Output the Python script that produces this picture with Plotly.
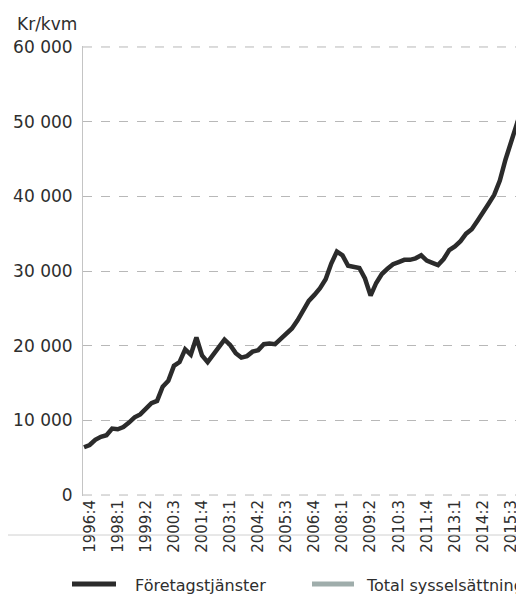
import plotly.graph_objects as go

# Quarter categories 1996:3 .. 2016:1
start_year, start_q = 1996, 3
n_points = 79
quarters = []
y, q = start_year, start_q
for _ in range(n_points):
    quarters.append(f"{y}:{q}")
    q += 1
    if q > 4:
        q = 1
        y += 1

series_name = "Företagstjänster"
series2_name = "Total sysselsättning"
y_title = "Kr/kvm"

foretagstjanster = [
    6400, 6700, 7400, 7800, 8000, 8900, 8800, 9100, 9700, 10400,
    10800, 11600, 12300, 12600, 14500, 15300, 17300, 17800, 19500, 18800,
    21100, 18700, 17800, 18800, 19900, 20800, 20100, 19000, 18400, 18600,
    19200, 19400, 20200, 20300, 20200, 20900, 21700, 22300, 23400, 24600,
    26000, 26800, 27700, 28900, 31000, 32600, 32100, 30700, 30500, 30400,
    29000, 26700, 28400, 29600, 30300, 30900, 31200, 31500, 31500, 31700,
    32100, 31400, 31100, 30800, 31600, 32800, 33300, 34000, 35000, 35600,
    36700, 38000, 39000, 40200, 42100, 44900, 47300, 49500, 52000,
]

x_ticks = quarters[1::5]
y_tickvals = [0, 10000, 20000, 30000, 40000, 50000, 60000]
y_ticktext = ["0", "10 000", "20 000", "30 000", "40 000", "50 000", "60 000"]

FONT = "DejaVu Sans"
TXT = "#2e2e2e"
GRID = "#b8b8b8"

fig = go.Figure()
fig.add_trace(go.Scatter(
    x=quarters, y=foretagstjanster, mode="lines", name=series_name,
    line=dict(color="#2b2b2b", width=4.5), showlegend=False,
    cliponaxis=False,
))

# page body has an 8px margin, so the figure is laid out 8px smaller
OFF = 8
W, H = 524 - OFF, 596 - OFF
ml, mr, mt, mb = 83 - OFF, 0, 46 - OFF, 100
pw = W - ml - mr
ph = H - mt - mb


def px_x(xpage):
    return (xpage - OFF - ml) / pw


def px_y(ypage):
    return (H - mb - (ypage - OFF)) / ph


edge_grid = [
    dict(type="line", xref="paper", yref="y", x0=0, x1=1,
         y0=v, y1=v, layer="below",
         line=dict(color=GRID, width=1, dash="dash"))
    for v in (y_tickvals[0], y_tickvals[-1])
]

fig.update_layout(
    width=W, height=H,
    margin=dict(l=ml, r=mr, t=mt, b=mb, autoexpand=False),
    paper_bgcolor="white", plot_bgcolor="white",
    font=dict(family=FONT, color=TXT),
    showlegend=False,
    xaxis=dict(
        type="category", automargin=False,
        range=[-0.18, 78.3],
        tickmode="array", tickvals=x_ticks, ticktext=x_ticks,
        tickangle=-90, tickfont=dict(size=15, family=FONT, color=TXT),
        showgrid=False, zeroline=False, showline=False, ticks="",
    ),
    yaxis=dict(
        range=[-130, 60130], automargin=False,
        tickmode="array", tickvals=y_tickvals, ticktext=y_ticktext,
        tickfont=dict(size=17, family=FONT, color=TXT),
        showgrid=True, gridcolor=GRID, gridwidth=1, griddash="dash",
        zeroline=False, showline=True, linecolor="#c4c4c4", linewidth=1,
        ticks="", ticklabelstandoff=6,
    ),
    annotations=[
        dict(text=y_title, xref="paper", yref="paper",
             x=px_x(15), y=px_y(24), xanchor="left", yanchor="middle",
             showarrow=False, font=dict(size=17, family=FONT, color=TXT)),
        dict(text=series_name, xref="paper", yref="paper",
             x=px_x(133), y=px_y(585), xanchor="left", yanchor="middle",
             showarrow=False, font=dict(size=16, family=FONT, color=TXT)),
        dict(text=series2_name, xref="paper", yref="paper",
             x=px_x(364), y=px_y(585), xanchor="left", yanchor="middle",
             showarrow=False, font=dict(size=16, family=FONT, color=TXT)),
    ],
    shapes=edge_grid + [
        dict(type="line", xref="paper", yref="paper",
             x0=px_x(0), x1=1, y0=px_y(535), y1=px_y(535),
             line=dict(color="#d0d0d0", width=1)),
        dict(type="line", xref="paper", yref="paper",
             x0=px_x(72), x1=px_x(116), y0=px_y(584), y1=px_y(584),
             line=dict(color="#2b2b2b", width=5)),
        dict(type="line", xref="paper", yref="paper",
             x0=px_x(312), x1=px_x(354), y0=px_y(584), y1=px_y(584),
             line=dict(color="#9fadab", width=5)),
    ],
)

fig.write_html("out.html")
